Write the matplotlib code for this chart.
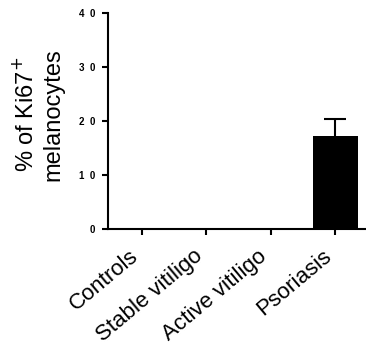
import numpy as np
import matplotlib.pyplot as plt

plt.rcParams['font.family'] = ['Liberation Sans', 'DejaVu Sans']

# data
groups = ["Controls", "Stable vitiligo", "Active vitiligo", "Psoriasis"]
means = [0, 0, 0, 17.2]
sems = [0, 0, 0, 3.2]
yticks = [0, 10, 20, 30, 40]
ytick_labels = ["0", "1  0", "2  0", "3  0", "4  0"]

fig = plt.figure(figsize=(3.66, 3.51), dpi=100)
ax = fig.add_axes([108 / 366, 1 - 229 / 351, (366 - 108) / 366, (229 - 13) / 351])

x = np.arange(len(groups))
ax.bar(x, means, width=0.7, color='black', zorder=2)

# upper error bar only
mask = np.array(sems) > 0
_, caps, _ = ax.errorbar(x[mask], np.array(means)[mask],
                         yerr=[np.zeros(mask.sum()), np.array(sems)[mask]],
                         fmt='none', ecolor='black', elinewidth=1.5,
                         capsize=8, capthick=1.5, zorder=1)
caps[0].set_visible(False)

ax.set_xlim(-0.53, 3.48)
ax.set_ylim(0, 40)
ax.set_yticks(yticks)
ax.set_yticklabels(ytick_labels, fontsize=7, fontweight='bold')
ax.set_xticks(x)
ax.set_xticklabels(groups, rotation=40, ha='right', fontsize=16)

for s in ['top', 'right']:
    ax.spines[s].set_visible(False)
for s in ['left', 'bottom']:
    ax.spines[s].set_linewidth(1.5)
ax.tick_params(axis='both', width=1.5, length=4)
ax.tick_params(axis='x', pad=8)
ax.tick_params(axis='y', pad=5)

ax.set_ylabel("% of Ki67$^{+}$\nmelanocytes", fontsize=17, linespacing=1.25)
ax.yaxis.set_label_coords(-0.168, 0.53)

fig.savefig('out.png', dpi=100)
